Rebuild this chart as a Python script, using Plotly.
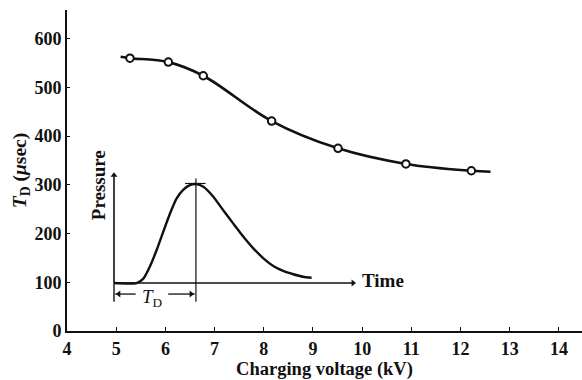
import plotly.graph_objects as go

# Measured delay time T_D versus charging voltage
voltage_kv = [5.28, 6.06, 6.77, 8.16, 9.51, 10.89, 12.22]
delay_us = [560, 552, 524, 431, 375, 343, 329]

# Smooth fitted curve through the measurements (with its drawn ends)
curve_kv = [5.09, 5.28, 6.06, 6.77, 8.16, 9.51, 10.89, 12.22, 12.61]
curve_us = [563, 560, 552, 524, 431, 375, 343, 329, 327]

# Schematic pressure pulse for the inset (arbitrary time / pressure units)
pulse_t = [0, 0.94, 1.22, 1.49, 1.77, 2.05, 2.32, 2.60, 2.88, 3.15, 3.40,
           3.71, 4.12, 4.54, 4.95, 5.37, 5.78, 6.20, 6.61, 7.02, 7.44, 7.85, 8.20]
pulse_p = [0, 0, 0.04, 0.15, 0.30, 0.47, 0.63, 0.77, 0.85, 0.89, 0.90,
           0.875, 0.785, 0.66, 0.54, 0.42, 0.315, 0.225, 0.155, 0.11, 0.08, 0.057, 0.048]
peak_t = 3.40
peak_p = 0.90
time_axis_end = 10.0
pressure_axis_end = 1.0

x_ticks = list(range(4, 15))
y_ticks = list(range(0, 700, 100))

SERIF = "Liberation Serif, Times New Roman, serif"
INK = "#111111"

fig = go.Figure()


def inset_line(xs, ys, width=1.4):
    fig.add_trace(go.Scatter(
        x=xs, y=ys, mode="lines", xaxis="x2", yaxis="y2",
        line=dict(color=INK, width=width), hoverinfo="skip", showlegend=False))


def inset_head(x, y, symbol, size=7):
    fig.add_trace(go.Scatter(
        x=[x], y=[y], mode="markers", xaxis="x2", yaxis="y2",
        marker=dict(symbol=symbol, size=size, color=INK, line=dict(width=0)),
        hoverinfo="skip", showlegend=False))


fig.add_trace(go.Scatter(
    x=curve_kv, y=curve_us, mode="lines",
    line=dict(color=INK, width=2.6, shape="spline", smoothing=1.0),
    hoverinfo="skip", showlegend=False))

fig.add_trace(go.Scatter(
    x=voltage_kv, y=delay_us, mode="markers",
    marker=dict(symbol="circle", size=7.5, color="white",
                line=dict(color=INK, width=2)),
    showlegend=False))

# Inset axes with arrowheads
inset_line([0, 0], [0, pressure_axis_end - 0.03], width=1.6)
inset_head(0, pressure_axis_end - 0.02, "triangle-up", size=6)
inset_line([0, time_axis_end - 0.1], [0, 0], width=1.6)
inset_head(time_axis_end - 0.08, 0, "triangle-right", size=6)

# Pulse curve
fig.add_trace(go.Scatter(
    x=pulse_t, y=pulse_p, mode="lines", xaxis="x2", yaxis="y2",
    line=dict(color=INK, width=2.4, shape="spline", smoothing=0.6),
    hoverinfo="skip", showlegend=False))

# Peak marker line and short cap at the crest
inset_line([peak_t, peak_t], [peak_p + 0.05, -0.17], width=1.2)
inset_line([peak_t - 0.45, peak_t + 0.4], [peak_p + 0.005, peak_p + 0.005], width=1.2)

# T_D dimension: end ticks, leader lines and arrowheads
inset_line([0, 0], [0, -0.17], width=1.4)
inset_line([0.05, 0.9], [-0.1, -0.1], width=1.3)
inset_line([2.25, peak_t - 0.05], [-0.1, -0.1], width=1.3)
inset_head(0.2, -0.1, "triangle-left", size=6)
inset_head(peak_t - 0.2, -0.1, "triangle-right", size=6)

annotations = [
    dict(x=1.6, y=-0.135, xref="x2", yref="y2", showarrow=False,
         text="<i>T</i><sub>D</sub>",
         font=dict(family=SERIF, size=19, color=INK)),
    dict(x=10.2, y=0.02, xref="x2", yref="y2", showarrow=False, xanchor="left",
         text="<b>Time</b>", font=dict(family=SERIF, size=19, color=INK)),
    dict(x=-0.66, y=0.89, xref="x2", yref="y2", showarrow=False, textangle=-90,
         text="<b>Pressure</b>", font=dict(family=SERIF, size=19, color=INK)),
]

fig.update_layout(
    width=582, height=380,
    margin=dict(l=67, r=0, t=10, b=49),
    paper_bgcolor="white", plot_bgcolor="white",
    font=dict(family=SERIF, color=INK),
    xaxis=dict(
        range=[4, 14.47], tickvals=x_ticks, ticktext=[str(v) for v in x_ticks],
        showgrid=False, zeroline=False, showline=True, linecolor=INK, linewidth=2,
        ticks="inside", ticklen=4, tickwidth=1.2, tickcolor=INK,
        tickfont=dict(family=SERIF, size=18, color=INK, weight="bold"),
        title=dict(text="<b>Charging voltage (kV)</b>", standoff=4,
                   font=dict(family=SERIF, size=18.5, color=INK)),
    ),
    yaxis=dict(
        range=[0, 659], tickvals=y_ticks, ticktext=[str(v) for v in y_ticks],
        showgrid=False, zeroline=False, showline=True, linecolor=INK, linewidth=2,
        ticks="inside", ticklen=3, tickwidth=1.2, tickcolor=INK,
        tickfont=dict(family=SERIF, size=18, color=INK, weight="bold"),
        title=dict(text="<b><i>T</i><sub>D</sub> (<i>μ</i>sec)</b>", standoff=3,
                   font=dict(family=SERIF, size=19.5, color=INK)),
    ),
    xaxis2=dict(overlaying="x", domain=[0, 1], range=[-1.95, 19.42], visible=False),
    yaxis2=dict(overlaying="y", domain=[0, 1], range=[-0.436, 2.482], visible=False),
    annotations=annotations,
)

fig.write_html("out.html")
